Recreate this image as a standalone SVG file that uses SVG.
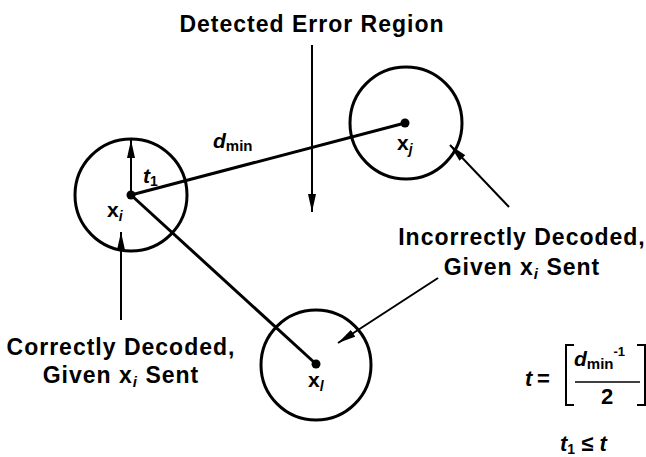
<svg xmlns="http://www.w3.org/2000/svg" width="646" height="457" viewBox="0 0 646 457">
<style>
.c{fill:none;stroke:#000;stroke-width:3}
.l{fill:none;stroke:#000;stroke-width:3}
.p{fill:none;stroke:#000;stroke-width:2}
.t{font-family:"Liberation Sans",Arial,sans-serif;font-weight:bold;font-size:23px;letter-spacing:1px;fill:#000}
.m{font-family:"Liberation Sans",Arial,sans-serif;font-weight:bold;fill:#000}
.it{font-style:italic}
</style>
<defs>
<marker id="ah" markerUnits="userSpaceOnUse" markerWidth="18" markerHeight="8" refX="18" refY="4" orient="auto">
<path d="M0,0 L18,4 L0,8 z" fill="#000"/>
</marker>
</defs>
<rect width="646" height="457" fill="#fff"/>

<g id="connectors">
<line class="l" x1="131" y1="195" x2="405" y2="123"/>
<line class="l" x1="131" y1="195" x2="316" y2="364"/>
<line class="p" x1="131" y1="195" x2="131" y2="140" marker-end="url(#ah)"/>
<line class="p" x1="312" y1="45" x2="312" y2="212" marker-end="url(#ah)"/>
<line class="p" x1="509" y1="207" x2="450" y2="145" marker-end="url(#ah)"/>
<line class="p" x1="438" y1="278" x2="338" y2="343" marker-end="url(#ah)"/>
<line class="p" x1="121" y1="320" x2="121" y2="232" marker-end="url(#ah)"/>
</g>

<g id="node-xi">
<circle class="c" cx="131" cy="195" r="56"/>
<circle cx="131" cy="195" r="4.5" fill="#000"/>
<text class="m" x="107" y="217" font-size="21">x<tspan class="it" font-size="14" dy="4">i</tspan></text>
<text class="m it" x="143" y="183" font-size="21">t<tspan font-size="14" font-style="normal" dy="3">1</tspan></text>
</g>

<g id="node-xj">
<circle class="c" cx="406" cy="123" r="56"/>
<circle cx="405" cy="123" r="4.5" fill="#000"/>
<text class="m" x="397" y="150" font-size="21">x<tspan class="it" font-size="14" dy="4">j</tspan></text>
</g>

<g id="node-xl">
<circle class="c" cx="316" cy="365" r="55"/>
<circle cx="316" cy="364" r="4.5" fill="#000"/>
<text class="m" x="308" y="387" font-size="21">x<tspan class="it" font-size="14" dy="4">l</tspan></text>
</g>

<g id="label-dmin">
<text class="m" x="213" y="148" font-size="21"><tspan class="it">d</tspan><tspan font-size="15" dy="3">min</tspan></text>
</g>

<g id="label-detected">
<text class="t" x="312" y="32" text-anchor="middle">Detected Error Region</text>
</g>

<g id="label-incorrect">
<text class="t" x="522" y="245" text-anchor="middle">Incorrectly Decoded,</text>
<text class="t" x="522" y="275" text-anchor="middle">Given x<tspan class="it" font-size="15" dy="4">i</tspan><tspan dy="-4"> Sent</tspan></text>
</g>

<g id="label-correct">
<text class="t" x="121" y="355" text-anchor="middle">Correctly Decoded,</text>
<text class="t" x="121" y="383" text-anchor="middle">Given x<tspan class="it" font-size="15" dy="4">i</tspan><tspan dy="-4"> Sent</tspan></text>
</g>

<g id="formula">
<text class="m it" x="525" y="386" font-size="22">t</text>
<text class="m" x="537" y="386" font-size="22">=</text>
<path class="p" d="M574,345 H566 V405 H574 M637,345 H645 V405 H637" stroke-width="2.5"/>
<text class="m" x="574" y="366" font-size="21"><tspan class="it">d</tspan><tspan font-size="15" dy="3">min</tspan><tspan font-size="13" dy="-13">-1</tspan></text>
<line x1="575" y1="382" x2="640" y2="382" stroke="#000" stroke-width="1.5"/>
<text class="m" x="607" y="404" font-size="22" text-anchor="middle">2</text>
<text class="m" x="560" y="451" font-size="22"><tspan class="it">t</tspan><tspan font-size="14" dy="3">1</tspan><tspan dy="-3"> ≤ </tspan><tspan class="it">t</tspan></text>
</g>
</svg>
